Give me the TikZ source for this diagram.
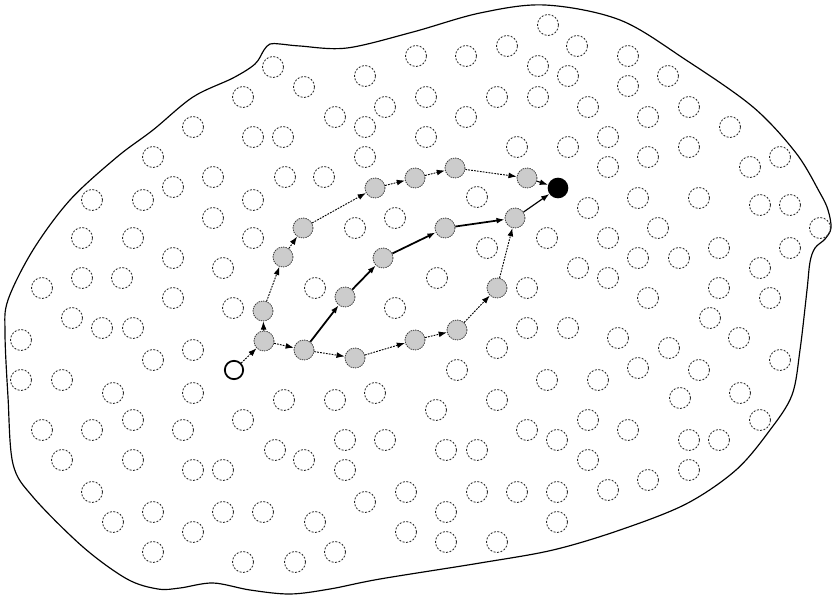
\documentclass[tikz,border=0pt]{standalone}
\usetikzlibrary{arrows.meta}
\begin{document}
\begin{tikzpicture}[x=0.03cm, y=-0.03cm,
    peer/.style={circle, draw=black!85, dash pattern=on 1.7pt off 1.3pt, line width=0.7pt, minimum size=0.63cm, inner sep=0pt},
    hop/.style={circle, fill=black!20, draw=black!75, dash pattern=on 1.2pt off 0.8pt, line width=0.7pt, minimum size=0.6cm, inner sep=0pt},
    srcnode/.style={circle, draw, fill=white, line width=1.5pt, minimum size=0.55cm, inner sep=0pt},
    dstnode/.style={circle, fill=black, minimum size=0.62cm, inner sep=0pt},
    route/.style={-{Latex[length=7pt,width=5pt]}, line width=0.8pt, dash pattern=on 1.5pt off 1pt},
    bestroute/.style={-{Latex[length=7pt,width=5pt]}, line width=1.5pt}
]
    \useasboundingbox (0,0) rectangle (833,597);

    % region border
    \draw[line width=1pt] plot[smooth cycle, tension=0.55] coordinates {
        (8,300) (33,250) (70,200) (117,157) (153,130) (193,97) (233,78) (255,64)
        (264,50) (270,44) (280,44) (300,46) (347,48) (413,32) (480,13) (545,5)
        (620,20) (686,60) (753,107) (796,153) (820,193) (828,210) (831,228)
        (825,239) (815,248) (810,262) (807,290) (800,350) (792,395) (770,430)
        (736,470) (686,504) (620,530) (553,550) (480,563) (380,579) (330,589)
        (290,594) (250,590) (213,583) (180,588) (158,589) (127,579) (83,547)
        (33,497) (13,464) (8,397) (5,333)};

    % idle peers
    \foreach \x/\y [count=\i] in {
        548/25, 577/46, 507/46, 416/56, 466/56, 628/56, 273/67, 538/66, 568/76,
        668/76, 365/76, 628/86, 304/87, 243/97, 426/97, 497/97, 538/97, 588/107,
        689/107, 385/107, 648/117, 335/117, 466/117, 193/127, 365/127, 730/127,
        253/137, 283/137, 426/137, 568/147, 608/137, 689/147, 517/147, 153/157,
        365/157, 648/157, 780/157, 750/167, 608/167, 213/177, 285/177, 324/177,
        173/187, 477/197, 143/200, 92/200, 253/200, 638/198, 699/198, 760/205,
        790/205, 213/218, 82/238, 133/238, 253/238, 173/258, 223/268, 42/288,
        82/278, 122/278, 173/298, 233/308, 72/318, 102/328, 133/328, 21/340,
        153/360, 193/350, 21/380, 62/380, 113/393, 193/393, 355/228, 395/218,
        487/248, 547/238, 437/278, 315/288, 527/288, 395/308, 527/328, 497/348,
        457/370, 547/380, 375/393, 335/400, 284/400, 497/400, 588/208, 820/228,
        608/238, 658/228, 638/258, 679/258, 719/248, 790/248, 578/268, 608/278,
        760/268, 719/288, 648/298, 770/298, 710/318, 568/328, 618/338, 669/348,
        739/338, 780/360, 638/368, 699/370, 598/380, 680/398, 740/393, 133/420,
        42/430, 92/430, 183/430, 243/420, 275/450, 62/460, 133/460, 193/470,
        223/470, 92/492, 153/512, 223/512, 263/512, 113/522, 193/532, 153/552,
        243/562, 436/410, 527/430, 557/440, 345/440, 385/440, 446/450, 477/450,
        304/460, 345/470, 365/502, 406/492, 446/512, 477/492, 517/492, 557/492,
        557/522, 315/522, 406/532, 335/552, 446/542, 497/542, 295/562, 588/420,
        628/430, 689/440, 719/440, 760/420, 588/460, 689/470, 648/480, 608/490}
        \node[peer] (p\i) at (\x,\y) {};

    % source and destination
    \node[srcnode] (src) at (234,370) {};
    \node[dstnode] (dst) at (558,188) {};

    % hops of the upper route
    \node[hop] (u1) at (264,341) {};
    \node[hop] (u2) at (263,311) {};
    \node[hop] (u3) at (283,257) {};
    \node[hop] (u4) at (303,228) {};
    \node[hop] (u5) at (375,188) {};
    \node[hop] (u6) at (415,178) {};
    \node[hop] (u7) at (455,168) {};
    \node[hop] (u8) at (527,178) {};

    % hops of the lower route
    \node[hop] (l1) at (304,350) {};
    \node[hop] (l2) at (355,358) {};
    \node[hop] (l3) at (415,340) {};
    \node[hop] (l4) at (457,330) {};
    \node[hop] (l5) at (497,288) {};
    \node[hop] (l6) at (515,218) {};

    % hops of the middle route
    \node[hop] (m1) at (345,297) {};
    \node[hop] (m2) at (383,258) {};
    \node[hop] (m3) at (445,228) {};

    \draw[route] (src) -- (u1);
    \draw[route] (u1) -- (u2);
    \draw[route] (u2) -- (u3);
    \draw[route] (u3) -- (u4);
    \draw[route] (u4) -- (u5);
    \draw[route] (u5) -- (u6);
    \draw[route] (u6) -- (u7);
    \draw[route] (u7) -- (u8);
    \draw[bestroute, line width=1pt] (u8) -- (dst);

    \draw[route] (u1) -- (l1);
    \draw[route] (l1) -- (l2);
    \draw[route] (l2) -- (l3);
    \draw[route] (l3) -- (l4);
    \draw[route] (l4) -- (l5);
    \draw[route] (l5) -- (l6);

    \draw[bestroute] (l1) -- (m1);
    \draw[bestroute] (m1) -- (m2);
    \draw[bestroute] (m2) -- (m3);
    \draw[bestroute] (m3) -- (l6);
    \draw[bestroute, line width=1pt] (l6) -- (dst);
\end{tikzpicture}
\end{document}
